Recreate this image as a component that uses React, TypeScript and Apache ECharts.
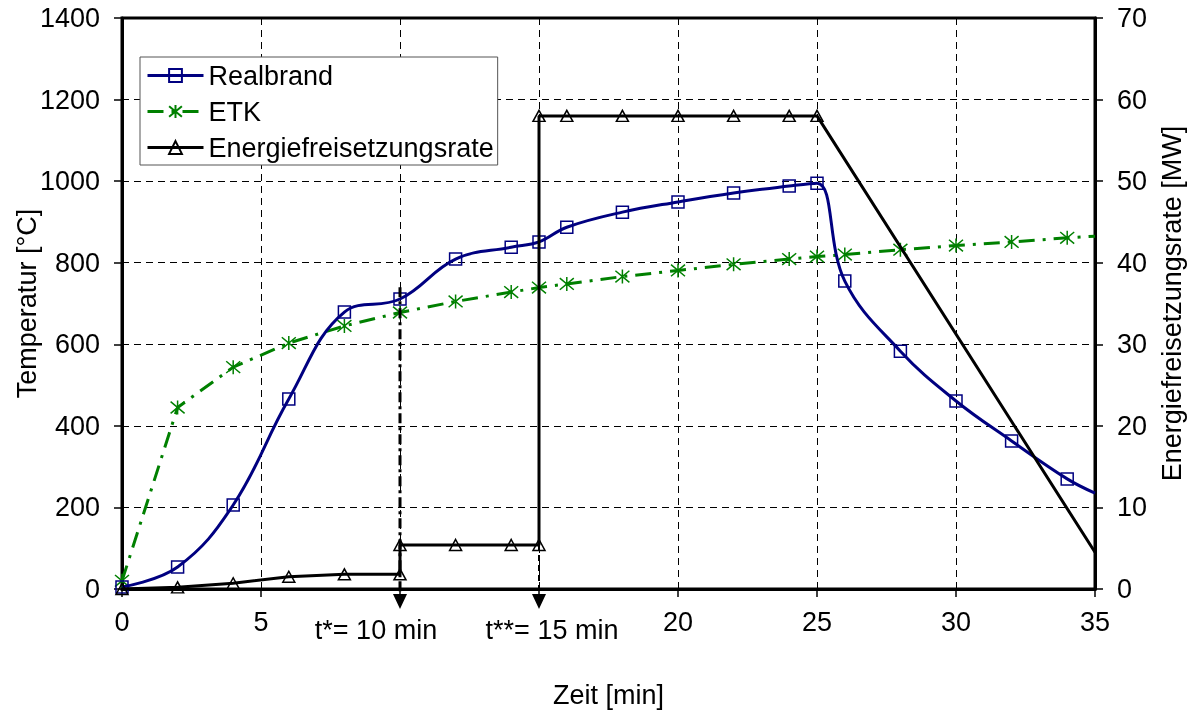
import React, { useEffect, useRef } from 'react';
import * as echarts from 'echarts';

const FONT = '"Liberation Sans", Arial, sans-serif';
const FS = 27;

// Realbrand (temperature, °C)
const realTime = [0, 2, 4, 6, 8, 10, 12, 14, 15, 16, 18, 20, 22, 24, 25, 26, 28, 30, 32, 34, 35];
const realTemp = [5, 54, 206, 466, 679, 711, 809, 838, 851, 887, 924, 949, 971, 988, 995, 755, 583, 461, 363, 270, 235];

// ETK (Einheitstemperaturkurve, °C)
const etkTime = [0, 2, 4, 6, 8, 10, 12, 14, 15, 16, 18, 20, 22, 24, 25, 26, 28, 30, 32, 34, 35];
const etkTemp = [20, 445, 544, 603, 645, 678, 705, 728, 739, 748, 766, 781, 796, 809, 815, 820, 832, 842, 851, 861, 865];

// Energiefreisetzungsrate (MW)
const hrrTime = [0, 2, 4, 6, 8, 10, 10, 12, 14, 15, 15, 16, 18, 20, 22, 24, 25, 35];
const hrrValue = [0, 0.2, 0.7, 1.5, 1.8, 1.8, 5.4, 5.4, 5.4, 5.4, 58, 58, 58, 58, 58, 58, 58, 4.5];

// Markers for t* and t**
const tStar = 10;
const tStarTop = 740; // °C
const tStar2 = 15;
const tStar2Top = 5.4; // MW
const tStarLabel = 't*= 10 min';
const tStar2Label = 't**= 15 min';

const ASTERISK = 'path://M0,0L10,10M10,0L0,10M5,-1L5,11';

export default function App() {
  const ref = useRef<HTMLDivElement>(null);
  useEffect(() => {
    const chart = echarts.init(ref.current!, null, { renderer: 'svg' });
    const lastR = realTime.length - 1;
    const lastE = etkTime.length - 1;
    const lastH = hrrTime.length - 1;
    const axisLabel = { fontSize: FS, color: '#000', fontFamily: FONT, formatter: (v: number) => String(v) };
    const option: any = {
      animation: false,
      textStyle: { fontFamily: FONT },
      grid: {
        left: 122, right: 101, top: 18, bottom: 128,
        containLabel: false, outerBoundsMode: 'none',
        show: true, borderColor: '#000', borderWidth: 3, backgroundColor: 'transparent',
      },
      legend: {
        orient: 'vertical', left: 140, top: 57,
        itemWidth: 56, itemHeight: 16, itemGap: 9,
        padding: [5, 4, 4, 6],
        backgroundColor: '#fff', borderColor: '#555', borderWidth: 1, borderRadius: 0,
        lineStyle: { width: 3 },
        textStyle: { fontSize: FS, color: '#000', fontFamily: FONT },
        data: ['Realbrand', 'ETK', 'Energiefreisetzungsrate'],
      },
      xAxis: {
        type: 'value', min: 0, max: 35, interval: 5,
        name: 'Zeit [min]', nameLocation: 'middle', nameGap: 92, nameMoveOverlap: false,
        nameTextStyle: { fontSize: FS, color: '#000', fontFamily: FONT },
        axisLine: { show: true, onZero: false, lineStyle: { color: '#000', width: 3 } },
        axisTick: { show: true, length: 8, lineStyle: { color: '#000', width: 1.5 } },
        axisLabel: {
          ...axisLabel, margin: 19,
          formatter: (v: number) => (v === tStar || v === tStar2 ? '' : String(v)),
        },
        splitLine: { show: true, lineStyle: { color: '#000', width: 1, type: [7, 5] } },
      },
      yAxis: [
        {
          type: 'value', min: 0, max: 1400, interval: 200, position: 'left',
          name: 'Temperatur [°C]', nameLocation: 'middle', nameGap: 82, nameMoveOverlap: false,
          nameTextStyle: { fontSize: FS, color: '#000', fontFamily: FONT },
          axisLine: { show: true, onZero: false, lineStyle: { color: '#000', width: 3 } },
          axisTick: { show: true, length: 8, lineStyle: { color: '#000', width: 1.5 } },
          axisLabel: { ...axisLabel, margin: 22 },
          splitLine: { show: true, lineStyle: { color: '#000', width: 1, type: [7, 5] } },
        },
        {
          type: 'value', min: 0, max: 70, interval: 10, position: 'right',
          name: 'Energiefreisetzungsrate [MW]', nameLocation: 'middle', nameGap: 63, nameMoveOverlap: false,
          nameTextStyle: { fontSize: FS, color: '#000', fontFamily: FONT },
          axisLine: { show: true, onZero: false, lineStyle: { color: '#000', width: 3 } },
          axisTick: { show: true, length: 8, lineStyle: { color: '#000', width: 1.5 } },
          axisLabel: { ...axisLabel, margin: 22 },
          splitLine: { show: false },
        },
      ],
      series: [
        {
          name: 'Realbrand', type: 'line', yAxisIndex: 0, smooth: 0.4,
          showAllSymbol: true, symbol: 'rect', symbolSize: 12,
          color: '#000080',
          data: realTime.map((t, i) => (i === lastR ? { value: [t, realTemp[i]], symbol: 'none' } : [t, realTemp[i]])),
          lineStyle: { color: '#000080', width: 3 },
          itemStyle: { color: 'rgba(255,255,255,0)', borderColor: '#000080', borderWidth: 1.5 },
          z: 3,
        },
        {
          name: 'ETK', type: 'line', yAxisIndex: 0,
          showAllSymbol: true, symbol: ASTERISK, symbolSize: 14,
          color: '#008000',
          data: etkTime.map((t, i) => (i === lastE ? { value: [t, etkTemp[i]], symbol: 'none' } : [t, etkTemp[i]])),
          lineStyle: { color: '#008000', width: 3, type: [16, 8, 3, 8] },
          itemStyle: { color: 'rgba(0,0,0,0)', borderColor: '#008000', borderWidth: 1.5 },
          z: 2,
        },
        {
          name: 'Energiefreisetzungsrate', type: 'line', yAxisIndex: 1,
          showAllSymbol: true, symbol: 'triangle', symbolSize: [12, 11],
          color: '#000',
          data: hrrTime.map((t, i) => (i === lastH ? { value: [t, hrrValue[i]], symbol: 'none' } : [t, hrrValue[i]])),
          lineStyle: { color: '#000', width: 3 },
          itemStyle: { color: 'rgba(255,255,255,0)', borderColor: '#000', borderWidth: 1.5 },
          z: 4,
        },
      ],
    };
    chart.setOption(option);

    const px = (x: number, y: number, yi: number) =>
      chart.convertToPixel({ xAxisIndex: 0, yAxisIndex: yi } as any, [x, y]) as number[];
    const base = px(0, 0, 0)[1];
    const a = px(tStar, tStarTop, 0);
    const b = px(tStar2, tStar2Top, 1);
    const arrow = (x: number) => ({
      type: 'polygon', z: 100,
      shape: { points: [[x - 7, base + 5], [x + 7, base + 5], [x, base + 20]] },
      style: { fill: '#000' },
    });
    chart.setOption({
      graphic: [
        {
          type: 'line', z: 99,
          shape: { x1: a[0], y1: a[1], x2: a[0], y2: base + 6 },
          style: { stroke: '#000', lineWidth: 3, lineDash: [10, 4, 3, 4] },
        },
        {
          type: 'line', z: 99,
          shape: { x1: b[0], y1: b[1], x2: b[0], y2: base + 6 },
          style: { stroke: '#000', lineWidth: 2, lineDash: [6, 4] },
        },
        arrow(a[0]),
        arrow(b[0]),
        {
          type: 'text', z: 100, x: a[0] - 24, y: base + 41,
          style: { text: tStarLabel, font: `${FS}px ${FONT}`, fill: '#000', textAlign: 'center', textVerticalAlign: 'middle' },
        },
        {
          type: 'text', z: 100, x: b[0] + 13, y: base + 41,
          style: { text: tStar2Label, font: `${FS}px ${FONT}`, fill: '#000', textAlign: 'center', textVerticalAlign: 'middle' },
        },
      ],
    });
    return () => chart.dispose();
  }, []);
  return <div ref={ref} style={{ position: 'fixed', left: 0, top: 0, width: 1196, height: 717 }} />;
}
